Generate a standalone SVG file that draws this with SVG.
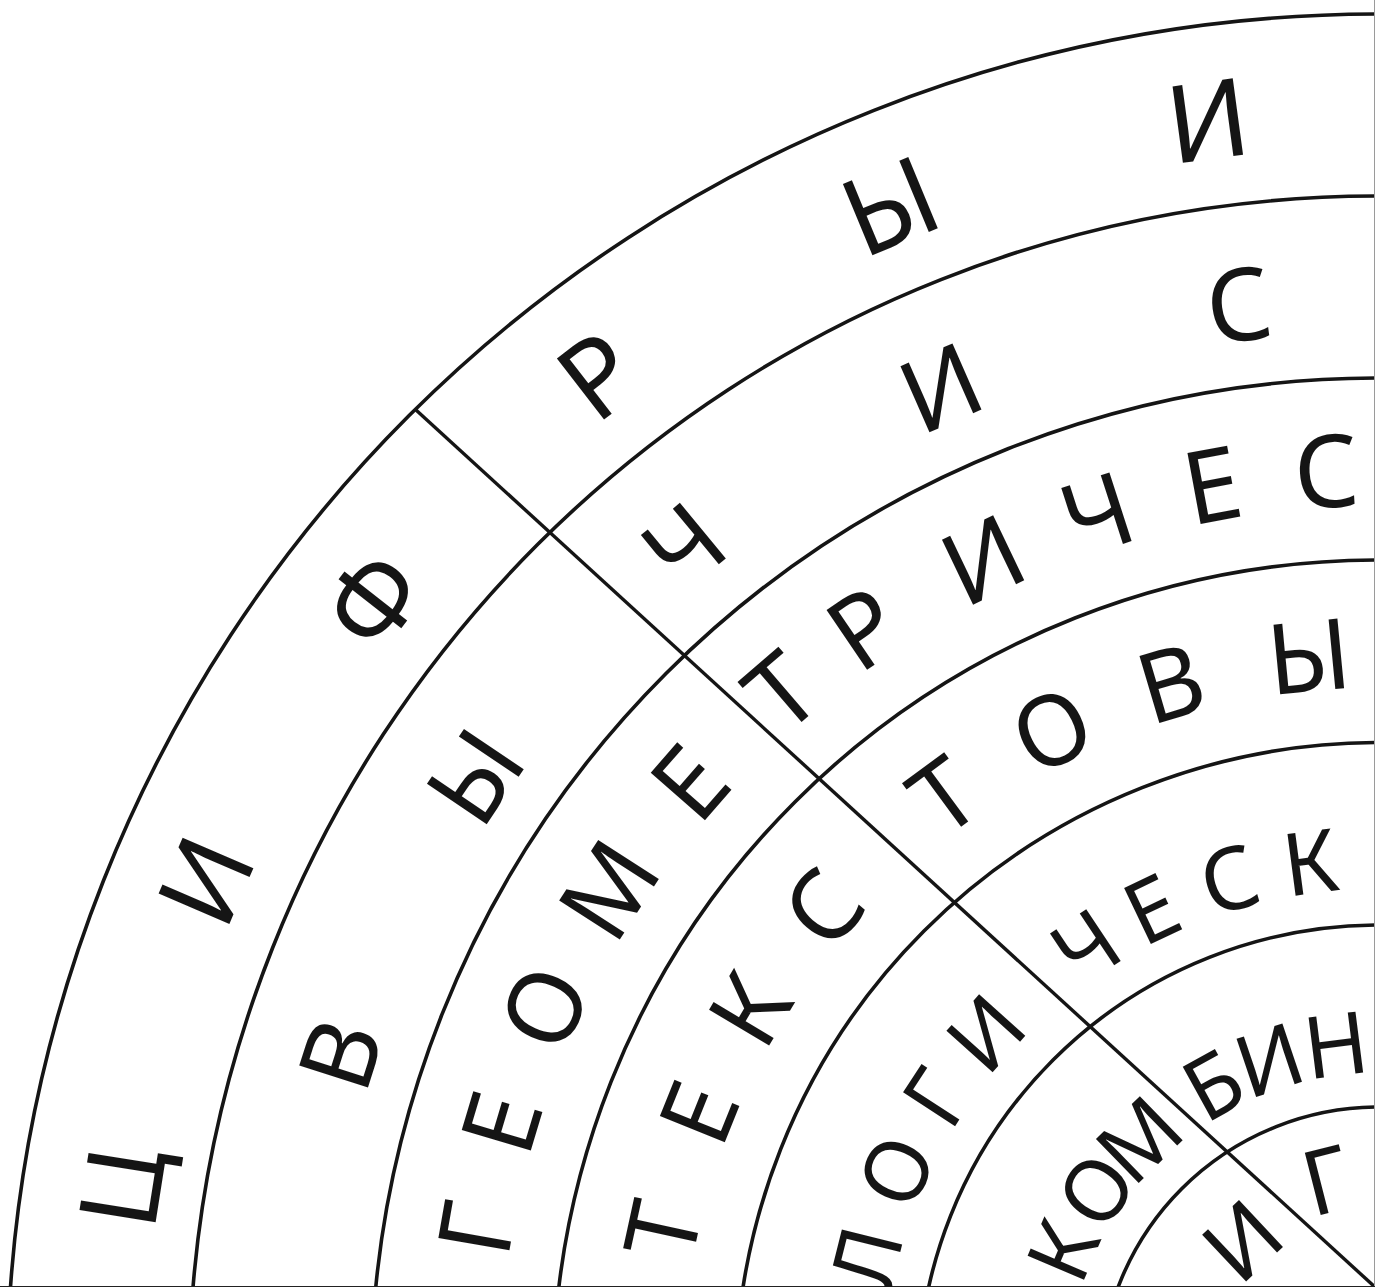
<svg xmlns="http://www.w3.org/2000/svg" width="1375" height="1287" viewBox="0 0 1375 1287">
<style>
.arc{fill:none;stroke:#151515;stroke-width:3.6}
.div{stroke:#151515;stroke-width:3.4}
text{font-family:"Noto Sans","Open Sans","DejaVu Sans",sans-serif;fill:#151515;text-anchor:middle}
.r1{font-size:108px}
.r2{font-size:101px}
.r3{font-size:101px}
.r4{font-size:98px}
.r5{font-size:87px}
.r6{font-size:86px}
.r7{font-size:90px}
</style>
<rect width="1375" height="1287" fill="#fff"/>
<g id="arcs">
<circle class="arc" cx="1379" cy="1386" r="1372"/>
<circle class="arc" cx="1379" cy="1386" r="1190"/>
<circle class="arc" cx="1379" cy="1386" r="1008"/>
<circle class="arc" cx="1379" cy="1386" r="826"/>
<circle class="arc" cx="1379" cy="1386" r="643.5"/>
<circle class="arc" cx="1379" cy="1386" r="461"/>
<circle class="arc" cx="1379" cy="1386" r="279"/>
</g>
<g id="connectors">
<line class="div" x1="416" y1="410" x2="1376" y2="1288"/>
<line x1="1374.5" y1="0" x2="1374.5" y2="1287" stroke="#9a9a9a" stroke-width="1"/>
<line x1="0" y1="1286.5" x2="1375" y2="1286.5" stroke="#222" stroke-width="1"/>
</g>
<g id="ring1" class="r1">
<text transform="rotate(-81.0 1379 1386)" x="1379" y="152">Ц</text>
<text transform="rotate(-66.7 1379 1386)" x="1379" y="147.5">И</text>
<text transform="rotate(-52.0 1379 1386)" x="1379" y="147.5">Ф</text>
<text transform="rotate(-37.7 1379 1386)" x="1379" y="147.5">Р</text>
<text transform="rotate(-22.5 1379 1386)" x="1379" y="147.5">Ы</text>
<text transform="rotate(-7.7 1379 1386)" x="1379" y="147.5">И</text>
</g>
<g id="ring2" class="r2">
<text transform="rotate(-72.3 1379 1386)" x="1379" y="332">В</text>
<text transform="rotate(-56.0 1379 1386)" x="1379" y="332">Ы</text>
<text transform="rotate(-39.6 1379 1386)" x="1379" y="332">Ч</text>
<text transform="rotate(-23.7 1379 1386)" x="1379" y="332">И</text>
<text transform="rotate(-7.4 1379 1386)" x="1379" y="332">С</text>
</g>
<g id="ring3" class="r3">
<text transform="rotate(-80.1 1379 1386)" x="1379" y="506">Г</text>
<text transform="rotate(-73.3 1379 1386)" x="1379" y="506">Е</text>
<text transform="rotate(-65.6 1379 1386)" x="1379" y="506">О</text>
<text transform="rotate(-57.2 1379 1386)" x="1379" y="506">М</text>
<text transform="rotate(-48.8 1379 1386)" x="1379" y="506">Е</text>
<text transform="rotate(-40.7 1379 1386)" x="1379" y="506">Т</text>
<text transform="rotate(-34.2 1379 1386)" x="1379" y="506">Р</text>
<text transform="rotate(-25.6 1379 1386)" x="1379" y="506">И</text>
<text transform="rotate(-17.9 1379 1386)" x="1379" y="506">Ч</text>
<text transform="rotate(-10.5 1379 1386)" x="1379" y="506">Е</text>
<text transform="rotate(-3.3 1379 1386)" x="1379" y="506">С</text>
</g>
<g id="ring4" class="r4">
<text transform="rotate(-77.7 1379 1386)" x="1379" y="688">Т</text>
<text transform="rotate(-68.1 1379 1386)" x="1379" y="688">Е</text>
<text transform="rotate(-59.1 1379 1386)" x="1379" y="688">К</text>
<text transform="rotate(-49.3 1379 1386)" x="1379" y="688">С</text>
<text transform="rotate(-36.4 1379 1386)" x="1379" y="688">Т</text>
<text transform="rotate(-26.5 1379 1386)" x="1379" y="688">О</text>
<text transform="rotate(-16.5 1379 1386)" x="1379" y="688">В</text>
<text transform="rotate(-5.5 1379 1386)" x="1379" y="688">Ы</text>
</g>
<g id="ring5" class="r5">
<text transform="rotate(-76 1379 1386)" x="1379" y="889">Л</text>
<text transform="rotate(-66.0 1379 1386)" x="1379" y="889">О</text>
<text transform="rotate(-56.9 1379 1386)" x="1379" y="889">Г</text>
<text transform="rotate(-48.1 1379 1386)" x="1379" y="889">И</text>
<text transform="rotate(-33.7 1379 1386)" x="1379" y="889">Ч</text>
<text transform="rotate(-25.5 1379 1386)" x="1379" y="889">Е</text>
<text transform="rotate(-16.5 1379 1386)" x="1379" y="889">С</text>
<text transform="rotate(-7.5 1379 1386)" x="1379" y="889">К</text>
</g>
<g id="ring6" class="r6">
<text transform="rotate(-66.8 1379 1386)" x="1379" y="1073">К</text>
<text transform="rotate(-55.3 1379 1386)" x="1379" y="1073">О</text>
<text transform="rotate(-44.2 1379 1386)" x="1379" y="1073">М</text>
<text transform="rotate(-28.8 1379 1386)" x="1379" y="1073">Б</text>
<text transform="rotate(-18.6 1379 1386)" x="1379" y="1073">И</text>
<text transform="rotate(-7.2 1379 1386)" x="1379" y="1073">Н</text>
</g>
<g id="ring7" class="r7">
<text transform="rotate(-43.2 1379 1386)" x="1379" y="1219">И</text>
<text transform="rotate(-14.3 1379 1386)" x="1379" y="1206">Г</text>
</g>
</svg>
